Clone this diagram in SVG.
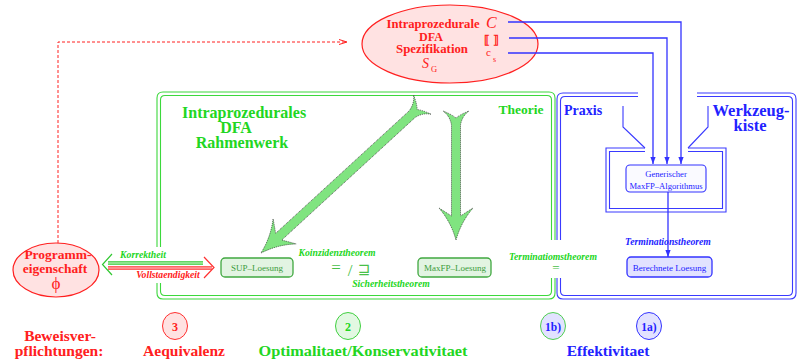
<svg xmlns="http://www.w3.org/2000/svg" width="797" height="359" viewBox="0 0 797 359">
<style>
text{font-family:"Liberation Serif","Times New Roman",serif}
.b{font-weight:bold}
.bi{font-weight:bold;font-style:italic;font-size:9.7px}
.red{fill:#ff2020}
.grn{fill:#22d622}
.blu{fill:#2222ff}
.gfr{fill:none;stroke:#3cd83c;stroke-width:1.1}
.bfr{fill:none;stroke:#3a3aff;stroke-width:1.1}
.bl{fill:none;stroke:#3333ff;stroke-width:1.3}
.fat{fill:#80e480;stroke:#333;stroke-width:0.8;stroke-dasharray:1 1}
.gnode{fill:#e2f4e2;stroke:#40a840;stroke-width:1.3}
.gtxt{fill:#3c9c3c;font-size:9px}
</style>
<defs>
<marker id="ab" viewBox="0 0 8 6" refX="8" refY="3" markerWidth="7" markerHeight="6" markerUnits="userSpaceOnUse" orient="auto"><path d="M0,0 L8,3 L0,6 z" fill="#3333ff"/></marker>
<marker id="ar" viewBox="0 0 8 6" refX="8" refY="3" markerWidth="8" markerHeight="6" markerUnits="userSpaceOnUse" orient="auto"><path d="M0,0.5 L8,3 L0,5.5" fill="none" stroke="#ff2020" stroke-width="1"/></marker>
</defs>

<!-- frames -->
<g id="frame-theorie">
<path class="gfr" d="M157,247 V98 Q157,92 163,92 H549 Q555,92 555,98 V240 M555,278 V293 Q555,299 549,299 H163 Q157,299 157,293 V283"/>
<path class="gfr" d="M160.5,247 V100 Q160.5,95.5 165,95.5 H547 Q551.5,95.5 551.5,100 V240 M551.5,278 V291 Q551.5,295.5 547,295.5 H165 Q160.5,295.5 160.5,291 V283"/>
<text class="b grn" x="182" y="118" font-size="16">Intraprozedurales</text>
<text class="b grn" x="236" y="133" font-size="16" text-anchor="middle">DFA</text>
<text class="b grn" x="242" y="148" font-size="16" text-anchor="middle">Rahmenwerk</text>
<text class="b grn" x="521" y="114" font-size="13.5" text-anchor="middle">Theorie</text>
</g>
<g id="frame-praxis">
<path class="bfr" d="M638,93 H563 Q557,93 557,99 V240 M557,278 V293 Q557,299 563,299 H790 Q796,299 796,293 V99 Q796,93 790,93 H697"/>
<path class="bfr" d="M638,96.5 H565 Q560.5,96.5 560.5,101 V240 M560.5,278 V291 Q560.5,295.5 565,295.5 H788 Q792.5,295.5 792.5,291 V101 Q792.5,96.5 788,96.5 H697"/>
<text class="b blu" x="564" y="115" font-size="14">Praxis</text>
<text class="b blu" x="751" y="116" font-size="16.5" text-anchor="middle">Werkzeug-</text>
<text class="b blu" x="750" y="131" font-size="16.5" text-anchor="middle">kiste</text>
<path class="bfr" d="M623,106 V127 L645,148 M708,106 V127 L688,148"/>
<path class="bfr" d="M645,148 H606 V212 H726 V148 H688 M645,151.5 H609.5 V208.5 H722.5 V151.5 H688"/>
</g>

<!-- nodes -->
<g id="spezifikation">
<ellipse cx="450" cy="44" rx="88" ry="39" fill="#ffe2e2" stroke="#ff2020" stroke-width="1.2"/>
<text class="b red" x="433" y="28" font-size="12" text-anchor="middle" textLength="93" lengthAdjust="spacingAndGlyphs">Intraprozedurale</text>
<text class="b red" x="431" y="40.5" font-size="12" text-anchor="middle">DFA</text>
<text class="b red" x="432" y="53" font-size="12" text-anchor="middle" textLength="72" lengthAdjust="spacingAndGlyphs">Spezifikation</text>
<text class="red" x="422" y="68" font-size="14" font-style="italic">S</text>
<text class="red" x="431" y="72" font-size="8.5">G</text>
<text class="red" x="486" y="28" font-size="16" font-style="italic">C</text>
<text class="b red" x="491" y="44" font-size="12" text-anchor="middle">⟦ ⟧</text>
<text class="red" x="486" y="56" font-size="11">c</text>
<text class="red" x="493" y="62" font-size="8">s</text>
</g>

<g id="programmeigenschaft">
<ellipse cx="56" cy="270" rx="43" ry="27" fill="#ffe2e2" stroke="#ff2020" stroke-width="1.2"/>
<text class="b red" x="58" y="259" font-size="13.5" text-anchor="middle">Programm-</text>
<text class="b red" x="55" y="273" font-size="13.5" text-anchor="middle">eigenschaft</text>
<text class="red" x="56" y="289" font-size="17" text-anchor="middle">ϕ</text>
</g>

<g id="sup">
<rect class="gnode" x="221" y="258" width="72" height="19" rx="4"/>
<text class="gtxt" x="257" y="271" text-anchor="middle">SUP–Loesung</text>
</g>
<g id="maxfp">
<rect class="gnode" x="418" y="258" width="73" height="19" rx="4"/>
<text class="gtxt" x="455" y="271" text-anchor="middle">MaxFP–Loesung</text>
</g>
<g id="generisch">
<rect x="626" y="165" width="80" height="27" rx="4" fill="#fafaff" stroke="#3333ff" stroke-width="1.1"/>
<text class="blu" x="666" y="177" font-size="8.6" text-anchor="middle">Generischer</text>
<text class="blu" x="666" y="189" font-size="8.6" text-anchor="middle">MaxFP–Algorithmus</text>
</g>
<g id="berechnet">
<rect x="627" y="257" width="85" height="20" rx="4" fill="#e2e2ff" stroke="#3333ff" stroke-width="1.3"/>
<text class="blu" x="669.5" y="271" font-size="9" text-anchor="middle">Berechnete Loesung</text>
</g>

<!-- bottom proof obligations -->
<g id="beweis">
<text class="b red" x="60" y="341" font-size="15.5" text-anchor="middle">Beweisver-</text>
<text class="b red" x="59" y="356" font-size="15.5" text-anchor="middle">pflichtungen:</text>
</g>
<g id="c3">
<ellipse cx="175" cy="326" rx="12.5" ry="13.5" fill="#ffe2e2" stroke="#ff3030" stroke-width="1"/>
<text class="b red" x="175" y="331" font-size="12" text-anchor="middle">3</text>
<text class="b red" x="184" y="356" font-size="15.5" text-anchor="middle">Aequivalenz</text>
</g>
<g id="c2">
<ellipse cx="348" cy="326" rx="12.5" ry="13.5" fill="#e2f8e2" stroke="#40d040" stroke-width="1"/>
<text class="b grn" x="348" y="331" font-size="12" text-anchor="middle">2</text>
<text class="b grn" x="363" y="356" font-size="15.5" text-anchor="middle" textLength="209" lengthAdjust="spacingAndGlyphs">Optimalitaet/Konservativitaet</text>
</g>
<g id="c1b">
<ellipse cx="553" cy="326" rx="12.5" ry="13.5" fill="#e2e2ff" stroke="#50d050" stroke-width="1"/>
<text class="b blu" x="553" y="331" font-size="11.5" text-anchor="middle">1b)</text>
</g>
<g id="c1a">
<ellipse cx="649" cy="326" rx="12.5" ry="13.5" fill="#e2e2ff" stroke="#3333ff" stroke-width="1"/>
<text class="b blu" x="649" y="331" font-size="11.5" text-anchor="middle">1a)</text>
<text class="b blu" x="608" y="356" font-size="15.5" text-anchor="middle">Effektivitaet</text>
</g>

<!-- connectors -->
<g id="connectors">
<path d="M58,243 V42 H347" fill="none" stroke="#ff2020" stroke-width="1" stroke-dasharray="3 2" marker-end="url(#ar)"/>
<path class="bl" d="M508,22 H681 V164" marker-end="url(#ab)"/>
<path class="bl" d="M509,38 H667 V164" marker-end="url(#ab)"/>
<path class="bl" d="M508,53 H653 V164" marker-end="url(#ab)"/>
<path class="bl" d="M668,192 V257" marker-end="url(#ab)"/>
<text class="bi blu" x="668" y="245" text-anchor="middle">Terminationstheorem</text>

<!-- Korrektheit / Vollstaendigkeit -->
<path d="M108,263 H203" stroke="#30c830" stroke-width="3.4" fill="none"/>
<path d="M108,263 H203" stroke="#e8ffe8" stroke-width="1.2" fill="none"/>
<path d="M112,254 L102.5,264.5 L112,275" stroke="#30c830" stroke-width="1.2" fill="none"/>
<path d="M108,268 H212" stroke="#ff3030" stroke-width="3.4" fill="none"/>
<path d="M108,268 H212" stroke="#ffe8e8" stroke-width="1.2" fill="none"/>
<path d="M204,257 L214,267.5 L204,278" stroke="#ff3030" stroke-width="1.2" fill="none"/>
<text class="bi grn" x="143" y="258" text-anchor="middle">Korrektheit</text>
<text class="bi red" x="168" y="278" text-anchor="middle">Vollstaendigkeit</text>

<!-- SUP vs MaxFP -->
<text class="bi grn" x="337" y="256" text-anchor="middle">Koinzidenztheorem</text>
<text fill="#48c048" x="336" y="273" font-size="17" text-anchor="middle">=</text>
<text fill="#48c048" x="350" y="276" font-size="17" text-anchor="middle">/</text>
<text fill="#48c048" x="364" y="274" font-size="15" text-anchor="middle" style="font-family:'DejaVu Sans',sans-serif">⊒</text>
<text class="bi grn" x="391" y="287" text-anchor="middle">Sicherheitstheorem</text>

<text class="bi grn" x="553" y="260" text-anchor="middle">Terminatiomstheorem</text>
<text fill="#48c048" x="556" y="272" font-size="13" text-anchor="middle">=</text>

<!-- fat green arrows -->
<path class="fat" d="M261,253 Q277.7,244.5 296.1,243.9 Q287,241.4 281.7,240.1 L415.1,117.5 Q422.8,112.5 431.2,114.3 Q423.6,110.5 417.2,109.5 Q416.8,103.1 413.6,95.1 Q414.6,103.7 409.1,110.9 L275.6,233.4 Q274.8,228.1 273.1,218.8 Q270.9,237.1 261,253 Z"/>
<path class="fat" d="M456,240 Q461,222 473,208 Q465,213 460.5,216 L460.5,125 Q462,116 469,111 Q461,114 456,118 Q451,114 443,111 Q450,116 451.5,125 L451.5,216 Q447,213 439,208 Q451,222 456,240 Z"/>
</g>
</svg>
